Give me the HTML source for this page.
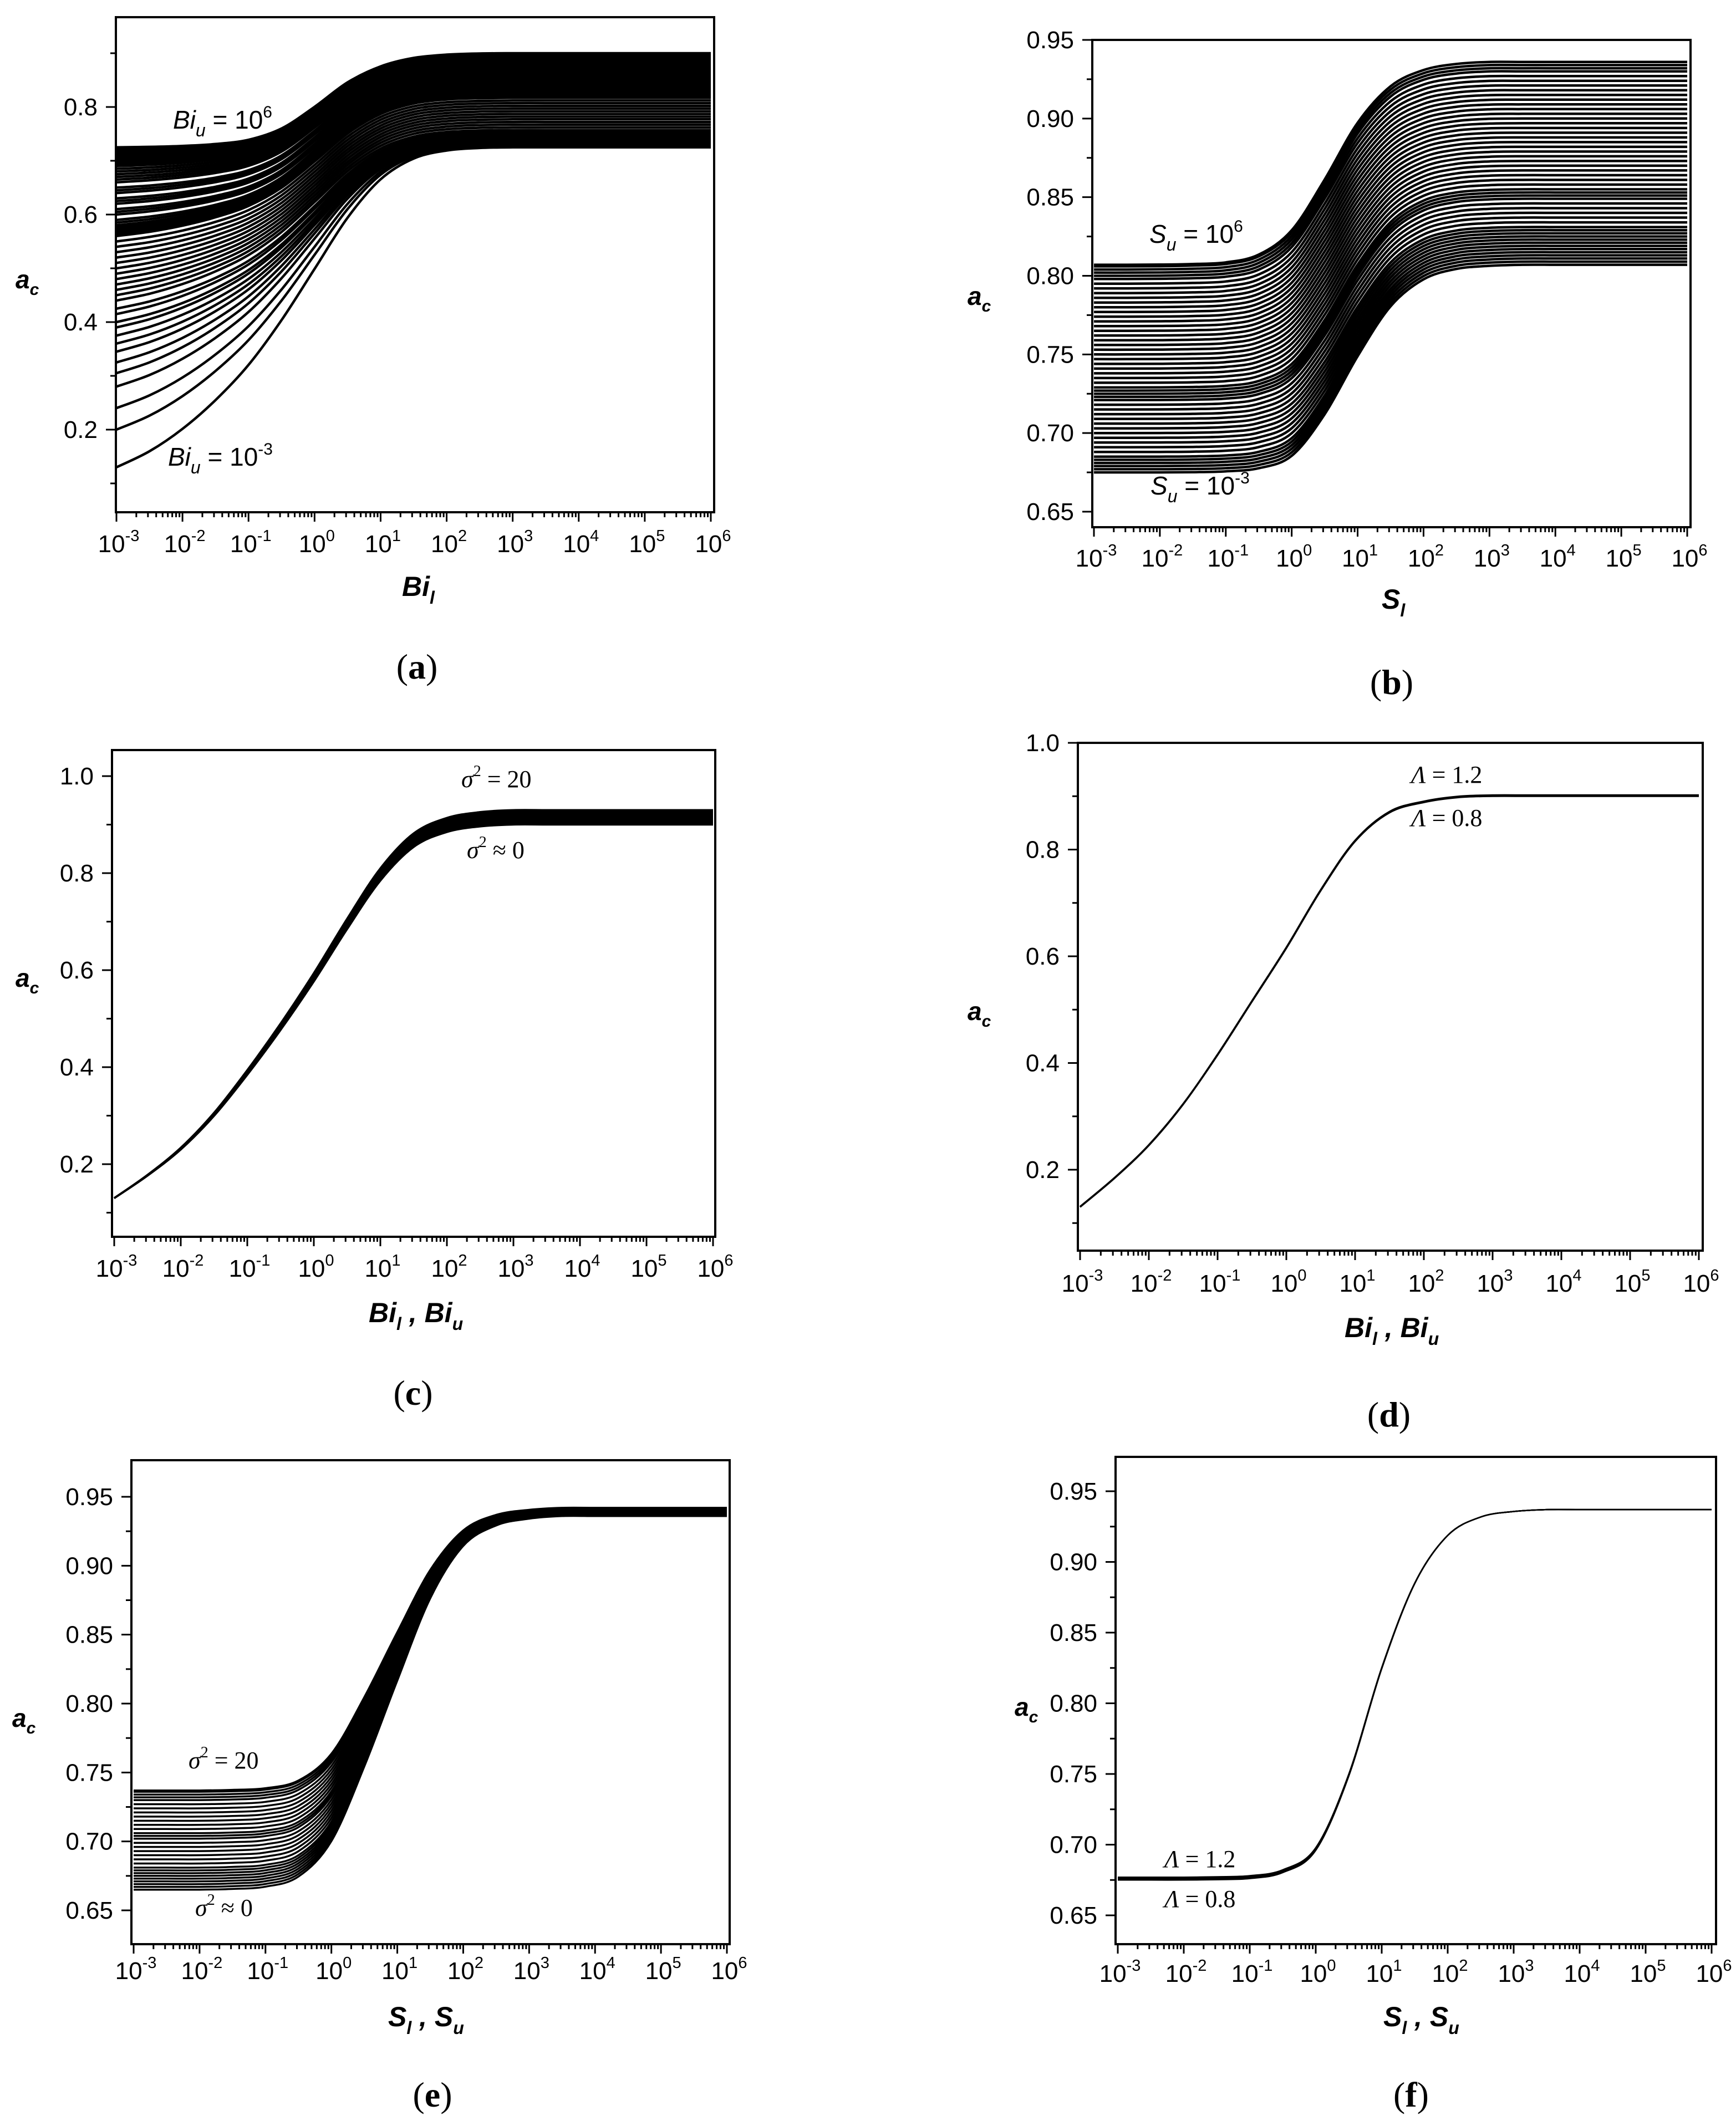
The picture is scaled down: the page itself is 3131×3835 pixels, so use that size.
<!DOCTYPE html>
<html><head><meta charset="utf-8"><title>a_c curves</title>
<style>
html,body{margin:0;padding:0;background:#fff;}
svg{display:block;}
.tk{font-family:"Liberation Sans",Arial,sans-serif;font-size:44px;fill:#000;}
.ax{font-family:"Liberation Sans",Arial,sans-serif;font-weight:bold;font-style:italic;fill:#000;}
.an{font-family:"Liberation Sans",Arial,sans-serif;font-size:46px;fill:#000;}
.sr{font-family:"Liberation Serif","Times New Roman",serif;font-size:44px;fill:#000;}
.cap{font-family:"Liberation Serif","Times New Roman",serif;font-size:64px;fill:#000;}
</style></head>
<body>
<svg id="fig" width="3131" height="3835" viewBox="0 0 3131 3835" xmlns="http://www.w3.org/2000/svg">
<rect x="0" y="0" width="3131" height="3835" fill="#fff"/>
<g id="plots"></g>

<g>
<text class="ax" x="28" y="520" font-size="46">a<tspan font-size="30" dy="12">c</tspan></text>
<text class="ax" x="725" y="1075" font-size="50">Bi<tspan font-size="32" dy="14">l</tspan></text>
<text class="an" x="312" y="232"><tspan font-style="italic">Bi</tspan><tspan font-style="italic" font-size="32" dy="14">u</tspan><tspan dy="-14"> = 10</tspan><tspan font-size="30" dy="-20">6</tspan></text>
<text class="an" x="303" y="840"><tspan font-style="italic">Bi</tspan><tspan font-style="italic" font-size="32" dy="14">u</tspan><tspan dy="-14"> = 10</tspan><tspan font-size="30" dy="-20">-3</tspan></text>
<text class="cap" x="752" y="1224" text-anchor="middle">(<tspan font-weight="bold">a</tspan>)</text>
</g>

<g>
<text class="ax" x="1745" y="550" font-size="46">a<tspan font-size="30" dy="12">c</tspan></text>
<text class="ax" x="2492" y="1098" font-size="50">S<tspan font-size="32" dy="14">l</tspan></text>
<text class="an" x="2073" y="438"><tspan font-style="italic">S</tspan><tspan font-style="italic" font-size="32" dy="14">u</tspan><tspan dy="-14"> = 10</tspan><tspan font-size="30" dy="-20">6</tspan></text>
<text class="an" x="2075" y="892"><tspan font-style="italic">S</tspan><tspan font-style="italic" font-size="32" dy="14">u</tspan><tspan dy="-14"> = 10</tspan><tspan font-size="30" dy="-20">-3</tspan></text>
<text class="cap" x="2510" y="1252" text-anchor="middle">(<tspan font-weight="bold">b</tspan>)</text>
</g>

<g>
<text class="ax" x="28" y="1780" font-size="46">a<tspan font-size="30" dy="12">c</tspan></text>
<text class="ax" x="665" y="2385" font-size="50">Bi<tspan font-size="32" dy="14">l</tspan><tspan dy="-14"> , Bi</tspan><tspan font-size="32" dy="14">u</tspan></text>
<text class="sr" x="832" y="1420"><tspan font-style="italic">σ</tspan><tspan font-size="28" dy="-20">2</tspan><tspan dy="20"> = 20</tspan></text>
<text class="sr" x="842" y="1548"><tspan font-style="italic">σ</tspan><tspan font-size="28" dy="-20">2</tspan><tspan dy="20"> ≈ 0</tspan></text>
<text class="cap" x="745" y="2534" text-anchor="middle">(<tspan font-weight="bold">c</tspan>)</text>
</g>

<g>
<text class="ax" x="1745" y="1840" font-size="46">a<tspan font-size="30" dy="12">c</tspan></text>
<text class="ax" x="2425" y="2412" font-size="50">Bi<tspan font-size="32" dy="14">l</tspan><tspan dy="-14"> , Bi</tspan><tspan font-size="32" dy="14">u</tspan></text>
<text class="sr" x="2545" y="1412"><tspan font-style="italic">Λ</tspan> = 1.2</text>
<text class="sr" x="2545" y="1490"><tspan font-style="italic">Λ</tspan> = 0.8</text>
<text class="cap" x="2505" y="2573" text-anchor="middle">(<tspan font-weight="bold">d</tspan>)</text>
</g>

<g>
<text class="ax" x="22" y="3115" font-size="46">a<tspan font-size="30" dy="12">c</tspan></text>
<text class="ax" x="700" y="3655" font-size="50">S<tspan font-size="32" dy="14">l</tspan><tspan dy="-14"> , S</tspan><tspan font-size="32" dy="14">u</tspan></text>
<text class="sr" x="340" y="3190"><tspan font-style="italic">σ</tspan><tspan font-size="28" dy="-20">2</tspan><tspan dy="20"> = 20</tspan></text>
<text class="sr" x="352" y="3456"><tspan font-style="italic">σ</tspan><tspan font-size="28" dy="-20">2</tspan><tspan dy="20"> ≈ 0</tspan></text>
<text class="cap" x="780" y="3800" text-anchor="middle">(<tspan font-weight="bold">e</tspan>)</text>
</g>

<g>
<text class="ax" x="1830" y="3095" font-size="46">a<tspan font-size="30" dy="12">c</tspan></text>
<text class="ax" x="2495" y="3655" font-size="50">S<tspan font-size="32" dy="14">l</tspan><tspan dy="-14"> , S</tspan><tspan font-size="32" dy="14">u</tspan></text>
<text class="sr" x="2100" y="3368"><tspan font-style="italic">Λ</tspan> = 1.2</text>
<text class="sr" x="2100" y="3440"><tspan font-style="italic">Λ</tspan> = 0.8</text>
<text class="cap" x="2545" y="3800" text-anchor="middle">(<tspan font-weight="bold">f</tspan>)</text>
</g>
</svg>

<script>
// ---------- data ----------
const logX = [-3,-2.5,-2,-1.5,-1,-0.5,0,0.5,1,1.5,2,2.5,3,3.5,4,4.5,5,5.5,6];
const xTickExps = [-3,-2,-1,0,1,2,3,4,5,6];

// panel a
const aStarts = [0.13,0.20,0.24,0.28,0.305,0.325,0.345,0.36,0.375,0.39,0.40,0.415,0.425,0.44,0.45,0.46,0.47,0.48,0.49,0.50,0.51,0.52,0.53,0.54,0.55,0.56,0.563,0.566,0.57,0.573,0.576,0.58,0.585,0.59,0.60,0.605,0.61,0.62,0.625,0.63,0.64,0.645,0.65,0.66,0.665,0.67,0.675,0.68,0.685,0.69,0.694,0.698,0.702,0.706,0.71,0.713,0.716,0.719,0.722,0.725];
const aEnds = [0.725,0.727,0.729,0.731,0.733,0.735,0.737,0.739,0.741,0.744,0.747,0.75,0.753,0.757,0.762,0.767,0.772,0.777,0.782,0.787,0.792,0.797,0.802,0.807,0.812,0.817,0.82,0.823,0.826,0.829,0.832,0.835,0.838,0.841,0.844,0.847,0.85,0.853,0.856,0.859,0.862,0.865,0.868,0.871,0.873,0.875,0.877,0.879,0.881,0.883,0.885,0.887,0.889,0.891,0.893,0.895,0.896,0.897,0.899,0.9];
const aShapeLow = [0,0.05,0.12,0.21,0.32,0.46,0.62,0.78,0.9,0.965,0.99,0.998,1,1,1,1,1,1,1];
const aShapeHigh = [0,0.005,0.015,0.035,0.08,0.2,0.43,0.69,0.86,0.95,0.985,0.997,1,1,1,1,1,1,1];
const aYTicks = [0.2,0.4,0.6,0.8];
const aYTickLabels = ["0.2","0.4","0.6","0.8"];
const aYMinor = [0.1,0.3,0.5,0.7,0.9];

// panel b
const bStarts = [0.675,0.677,0.679,0.681,0.683,0.685,0.688,0.691,0.694,0.697,0.700,0.703,0.706,0.709,0.712,0.715,0.718,0.721,0.723,0.725,0.727,0.729,0.732,0.735,0.738,0.741,0.744,0.747,0.750,0.753,0.756,0.759,0.762,0.765,0.768,0.771,0.774,0.777,0.780,0.783,0.786,0.789,0.792,0.795,0.798,0.800,0.802,0.804,0.806,0.807];
const bEnds = [0.807,0.809,0.811,0.813,0.815,0.817,0.819,0.821,0.823,0.825,0.827,0.829,0.831,0.834,0.837,0.840,0.843,0.846,0.849,0.851,0.853,0.855,0.858,0.861,0.864,0.867,0.870,0.873,0.876,0.879,0.882,0.885,0.888,0.891,0.894,0.897,0.900,0.903,0.906,0.909,0.912,0.915,0.918,0.921,0.924,0.927,0.930,0.932,0.934,0.936];
const bShapeLow = [0,0,0,0.001,0.005,0.02,0.08,0.28,0.56,0.8,0.93,0.98,0.995,1,1,1,1,1,1];
const bShapeHigh = [0,0,0.001,0.004,0.012,0.05,0.17,0.42,0.7,0.88,0.96,0.99,1,1,1,1,1,1,1];
const bYTicks = [0.65,0.70,0.75,0.80,0.85,0.90,0.95];
const bYTickLabels = ["0.65","0.70","0.75","0.80","0.85","0.90","0.95"];
const bYMinor = [0.675,0.725,0.775,0.825,0.875,0.925];

// panel c
const cStarts = [0.13,0.13,0.13,0.13,0.13,0.13,0.13,0.13,0.13,0.13,0.13,0.13,0.13,0.13,0.13,0.13];
const cEnds = [0.900,0.902,0.904,0.906,0.908,0.910,0.912,0.914,0.916,0.918,0.920,0.922,0.924,0.926,0.928,0.930];
const cShape = [0,0.06,0.13,0.22,0.33,0.45,0.58,0.72,0.85,0.94,0.98,0.995,1,1,1,1,1,1,1];
const cdYTicks = [0.2,0.4,0.6,0.8,1.0];
const cdYTickLabels = ["0.2","0.4","0.6","0.8","1.0"];
const cdYMinor = [0.1,0.3,0.5,0.7,0.9];

// panel d
const dStarts = [0.13,0.131];
const dEnds = [0.900,0.902];
const dShape = [0,0.07,0.15,0.25,0.37,0.5,0.63,0.77,0.89,0.96,0.985,0.997,1,1,1,1,1,1,1];

// panel e
const eStarts = [0.665,0.667,0.669,0.671,0.673,0.675,0.677,0.679,0.681,0.684,0.687,0.690,0.693,0.696,0.699,0.702,0.704,0.706,0.709,0.712,0.715,0.718,0.721,0.724,0.727,0.730,0.732,0.734,0.736,0.737];
const eEnds = [0.936,0.9362,0.9364,0.9366,0.9368,0.937,0.9372,0.9374,0.9376,0.9378,0.938,0.9382,0.9384,0.9386,0.9388,0.939,0.9392,0.9394,0.9396,0.9398,0.94,0.9402,0.9404,0.9406,0.9408,0.941,0.9412,0.9414,0.9416,0.942];
const eShape = [0,0,0,0.002,0.008,0.035,0.13,0.33,0.56,0.78,0.92,0.975,0.993,1,1,1,1,1,1];
const efYTicks = [0.65,0.70,0.75,0.80,0.85,0.90,0.95];
const efYTickLabels = ["0.65","0.70","0.75","0.80","0.85","0.90","0.95"];
const efYMinor = [0.675,0.725,0.775,0.825,0.875,0.925];

// panel f
const fStarts = [0.675,0.6755,0.676,0.6765,0.677];
const fEnds = [0.937,0.937,0.937,0.937,0.937];
const fShape = [0,0,0,0.001,0.004,0.02,0.08,0.28,0.57,0.8,0.93,0.98,0.995,1,1,1,1,1,1];

// ---------- drawing ----------
const NS = "http://www.w3.org/2000/svg";
const root = document.getElementById('plots');

function mk(tag, attrs, parent){
  const e = document.createElementNS(NS, tag);
  for (const k in attrs) e.setAttribute(k, attrs[k]);
  parent.appendChild(e);
  return e;
}

function smoothPath(pts){
  let d = "M" + pts[0][0].toFixed(1) + "," + pts[0][1].toFixed(1);
  for (let i = 0; i < pts.length - 1; i++){
    const p0 = pts[i-1] || pts[i], p1 = pts[i], p2 = pts[i+1], p3 = pts[i+2] || pts[i+1];
    const c1x = p1[0] + (p2[0]-p0[0])/6, c1y = p1[1] + (p2[1]-p0[1])/6;
    const c2x = p2[0] - (p3[0]-p1[0])/6, c2y = p2[1] - (p3[1]-p1[1])/6;
    d += " C" + c1x.toFixed(1) + "," + c1y.toFixed(1) + " " + c2x.toFixed(1) + "," + c2y.toFixed(1) + " " + p2[0].toFixed(1) + "," + p2[1].toFixed(1);
  }
  return d;
}

function panel(p){
  const g = mk('g', {}, root);
  
  
  const xs = e => p.x0 + (e + 3) / 9 * (p.x1 - p.x0);
  const ys = v => p.ya + (v - p.va) * (p.yb - p.ya) / (p.vb - p.va);

  const sg = mk('g', {fill:'none', stroke:'#000', 'stroke-width':p.sw, 'stroke-linejoin':'round'}, g);
  
  
  const n = Math.min(p.starts.length, p.ends.length);
  for (let i = 0; i < n; i++){
    const t = n > 1 ? i / (n - 1) : 0;
    const pts = logX.map((lx, k) => {
      const f = p.shapeLow[k] * (1 - t) + p.shapeHigh[k] * t;
      const v = p.starts[i] + (p.ends[i] - p.starts[i]) * f;
      return [xs(lx), ys(v)];
    });
    const path = mk('path', {d: smoothPath(pts)}, sg);
    
    
  }

  const box = mk('rect', {x:p.l, y:p.t, width:p.r - p.l, height:p.b - p.t, fill:'none', stroke:'#000', 'stroke-width':4}, g);
  
  

  const xt = mk('g', {stroke:'#000', 'stroke-width':3}, g);
  
  
  xTickExps.forEach((e, idx) => {
    const x = xs(e);
    mk('line', {x1:x, y1:p.b, x2:x, y2:p.b + 17}, xt);
    if (idx < xTickExps.length - 1){
      for (let m = 2; m <= 9; m++){
        const xm = xs(e + Math.log10(m));
        mk('line', {x1:xm, y1:p.b, x2:xm, y2:p.b + 9}, xt);
      }
    }
    const tx = mk('text', {x:x + 4, y:p.lb, 'text-anchor':'middle', class:'tk'}, g);
    
    
    tx.appendChild(document.createTextNode('10'));
    const sup = mk('tspan', {'font-size':29, dy:-20}, tx);
    sup.textContent = String(e);
  });

  const yt = mk('g', {stroke:'#000', 'stroke-width':3}, g);
  
  
  p.yTicks.forEach((v, i) => {
    const y = ys(v);
    mk('line', {x1:p.l - 18, y1:y, x2:p.l, y2:y}, yt);
    const tx = mk('text', {x:p.l - 33, y:y + 15, 'text-anchor':'end', class:'tk'}, g);
    
    
    tx.textContent = p.yLabels[i];
  });
  p.yMinor.forEach(v => {
    const y = ys(v);
    if (y > p.t && y < p.b) mk('line', {x1:p.l - 10, y1:y, x2:p.l, y2:y}, yt);
  });
}

panel({id:'a', l:209, r:1288, t:31, b:924, x0:210, x1:1282, va:0.8, ya:193, vb:0.2, yb:775, lb:996, sw:4.5,
  starts:aStarts, ends:aEnds, shapeLow:aShapeLow, shapeHigh:aShapeHigh, yTicks:aYTicks, yLabels:aYTickLabels, yMinor:aYMinor});
panel({id:'b', l:1970, r:3049, t:72, b:951, x0:1973, x1:3043, va:0.95, ya:72, vb:0.65, yb:923, lb:1022, sw:4.5,
  starts:bStarts, ends:bEnds, shapeLow:bShapeLow, shapeHigh:bShapeHigh, yTicks:bYTicks, yLabels:bYTickLabels, yMinor:bYMinor});
panel({id:'c', l:202, r:1290, t:1353, b:2231, x0:206, x1:1286, va:1.0, ya:1400, vb:0.2, yb:2100, lb:2303, sw:3.5,
  starts:cStarts, ends:cEnds, shapeLow:cShape, shapeHigh:cShape, yTicks:cdYTicks, yLabels:cdYTickLabels, yMinor:cdYMinor});
panel({id:'d', l:1944, r:3071, t:1340, b:2256, x0:1948, x1:3064, va:1.0, ya:1340, vb:0.2, yb:2110, lb:2330, sw:3,
  starts:dStarts, ends:dEnds, shapeLow:dShape, shapeHigh:dShape, yTicks:cdYTicks, yLabels:cdYTickLabels, yMinor:cdYMinor});
panel({id:'e', l:237, r:1316, t:2634, b:3507, x0:241, x1:1311, va:0.95, ya:2700, vb:0.65, yb:3446, lb:3570, sw:3.5,
  starts:eStarts, ends:eEnds, shapeLow:eShape, shapeHigh:eShape, yTicks:efYTicks, yLabels:efYTickLabels, yMinor:efYMinor});
panel({id:'f', l:2012, r:3095, t:2628, b:3507, x0:2016, x1:3087, va:0.95, ya:2690, vb:0.65, yb:3455, lb:3575, sw:2.5,
  starts:fStarts, ends:fEnds, shapeLow:fShape, shapeHigh:fShape, yTicks:efYTicks, yLabels:efYTickLabels, yMinor:efYMinor});
</script>
</body></html>
